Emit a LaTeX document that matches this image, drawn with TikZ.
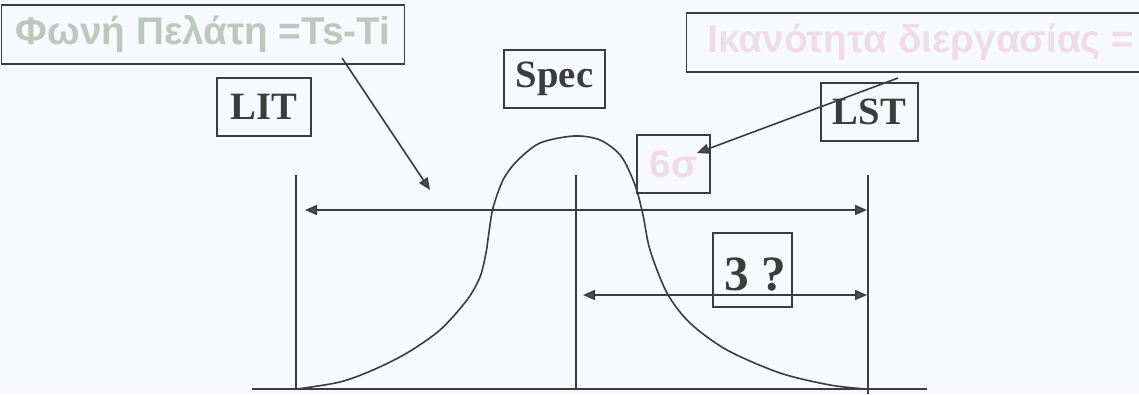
\documentclass[tikz,border=0pt]{standalone}
\usepackage{fontspec}
\setmainfont{Liberation Serif}
\newfontfamily\arialf{Liberation Sans}
\usetikzlibrary{arrows.meta}
\definecolor{bgc}{HTML}{F7F9FC}
\definecolor{ink}{HTML}{3C3C3C}
\definecolor{ghost}{HTML}{BEC6BD}
\definecolor{pinkg}{HTML}{EEDDE5}
\definecolor{tipc}{HTML}{505050}
\begin{document}
\begin{tikzpicture}[x=0.75pt,y=-0.75pt,
  box/.style={draw=ink, line width=1pt, inner sep=0pt, minimum height=43.5pt},
  lbl/.style={font=\bfseries\fontsize{29}{32}\selectfont, text=ink},
  sanslbl/.style={font=\arialf\bfseries\fontsize{29}{32}\selectfont},
  line/.style={draw=ink, line width=1.2pt},
  arr/.style={line, -{Triangle[length=9pt,width=7.5pt,fill=tipc]}},
  darr/.style={line, {Triangle[length=9pt,width=7.5pt,fill=tipc]}-{Triangle[length=9pt,width=7.5pt,fill=tipc]}},
]
\useasboundingbox (0,0) rectangle (1139,394);
\clip (0,0) rectangle (1139,394);
\fill[bgc] (0,0) rectangle (1139,394);

% boxes
\node[box, minimum width=302.25pt, minimum height=44.25pt] (voice) at (203,34.5) {};
\node[sanslbl, text=ghost] (voicet) at (203,34) {Φωνή Πελάτη =Ts-Ti};
\node[box, minimum width=348pt, minimum height=44.25pt, anchor=west] (cap) at (686,42.5) {};
\node[sanslbl, text=pinkg, anchor=west] (capt) at (703,42) {Ικανότητα διεργασίας =};
\node[box, lbl, minimum width=70.5pt] (lit) at (264,107) {LIT};
\node[box, lbl, minimum width=75.75pt] (spec) at (554.5,79) {Spec};
\node[box, lbl, minimum width=72.75pt] (lst) at (869.5,112) {LST};
\node[box, sanslbl, text=pinkg, minimum width=54.75pt] (six) at (673.5,164) {6σ};
\node[box, minimum width=59.25pt, minimum height=55.5pt] (three) at (752.5,270) {};
\node[lbl, font=\bfseries\fontsize{37}{40}\selectfont] (threet) at (755,275) {3 ?};

% frame lines
\coordinate (lt) at (296,175); \coordinate (lb) at (296,389);
\coordinate (ct) at (576,175); \coordinate (cb) at (576,389);
\coordinate (rt) at (868,175); \coordinate (rb) at (868,394);
\coordinate (b1) at (252,389); \coordinate (b2) at (927,389);
\draw[line] (lt) -- (lb);
\draw[line] (ct) -- (cb);
\draw[line] (rt) -- (rb);
\draw[line] (b1) -- (b2);

% bell curve
\draw[line] plot[smooth, tension=0.5] coordinates {
 (297,389) (340,382) (373,370) (407,353) (440,330) (467,300) (480,277)
 (486,253) (489,232) (493,208) (503,180) (517,161) (540,143) (574,136)
 (600,140) (621,156) (635,185) (643,215) (650,250) (667,293) (690,323)
 (727,350) (780,373) (830,385) (866,389)};

% dimension arrows
\coordinate (a1) at (305,210); \coordinate (a2) at (867,210);
\coordinate (s1) at (583,295); \coordinate (s2) at (867,295);
\draw[darr] (a1) -- (a2);
\draw[darr] (s1) -- (s2);

% pointer arrows
\coordinate (p1) at (342,58); \coordinate (p2) at (430,190);
\draw[arr] (p1) -- (p2);
\coordinate (q1) at (898,78); \coordinate (q2) at (697,153);
\draw[arr] (q1) -- (q2);
\end{tikzpicture}
\end{document}
